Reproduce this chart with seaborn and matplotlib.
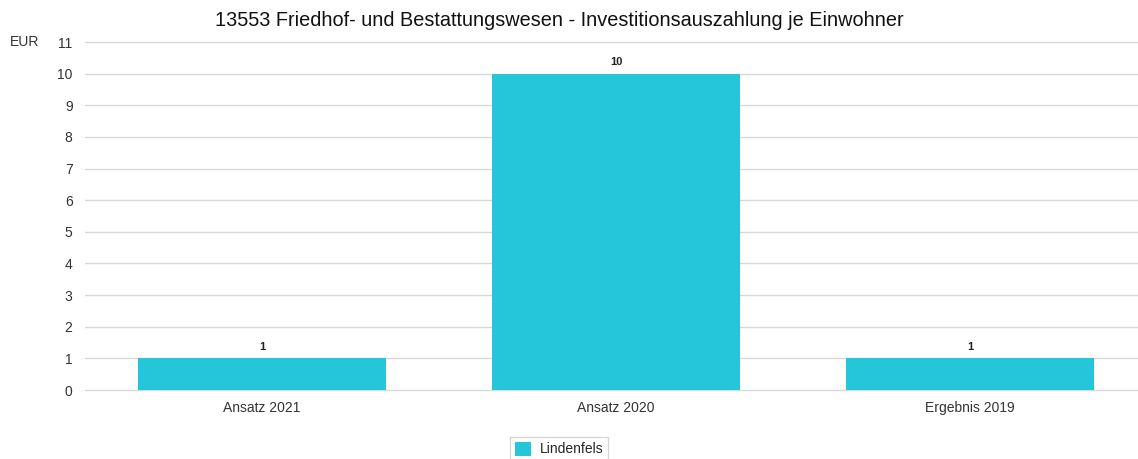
import matplotlib
matplotlib.use("Agg")
import matplotlib.pyplot as plt
import seaborn as sns
import pandas as pd
from matplotlib.patches import Patch

categories = ["Ansatz 2021", "Ansatz 2020", "Ergebnis 2019"]
values = [1, 10, 1]
series_name = "Lindenfels"
title = "13553 Friedhof- und Bestattungswesen - Investitionsauszahlung je Einwohner"
unit = "EUR"
yticks = list(range(0, 12))

sns.set_theme(style="white")
plt.rcParams["font.family"] = ["Liberation Sans", "DejaVu Sans"]

df = pd.DataFrame({"Kategorie": categories, "Wert": values, "Serie": series_name})

fig = plt.figure(figsize=(11.38, 4.59), dpi=100)
ax = fig.add_axes([85 / 1138, 69 / 459, 1062 / 1138, 348 / 459])

color = "#26C6DA"
sns.barplot(data=df, x="Kategorie", y="Wert", hue="Serie", palette=[color],
            width=0.7, ax=ax, legend=False, saturation=1, linewidth=0)

ax.set_ylim(0, 11)
ax.set_yticks(yticks)
ax.set_xlim(-0.5, 2.5)
ax.grid(axis="y", color="#d9d9d9", linewidth=1)
for gl in ax.get_ygridlines():
    gl.set_clip_on(False)
ax.set_axisbelow(True)
for s in ax.spines.values():
    s.set_visible(False)
ax.tick_params(axis="both", length=0, labelsize=10, colors="#333333")
ax.tick_params(axis="y", pad=9)
ax.tick_params(axis="x", pad=8)
ax.set_xlabel("")
ax.set_ylabel("")

for i, v in enumerate(values):
    ax.text(i, v + 0.2, f"{v}", ha="center", va="bottom", fontsize=8,
            fontweight="bold", color="#222222")

fig.text(10 / 1138, 1 - 42 / 459, unit, ha="left", va="center", fontsize=10, color="#333333")
fig.text(559 / 1138, 1 - 20 / 459, title, ha="center", va="center", fontsize=14.3, color="#111111")

fig.legend(handles=[Patch(facecolor=color, edgecolor="none", label=series_name)],
           loc="center", bbox_to_anchor=(559 / 1138, 1 - 449 / 459), frameon=True,
           fontsize=10, handlelength=1.2, handleheight=1.2, handletextpad=0.6,
           borderpad=0.35, fancybox=False, edgecolor="#cccccc")

fig.savefig("out.png", dpi=100)
